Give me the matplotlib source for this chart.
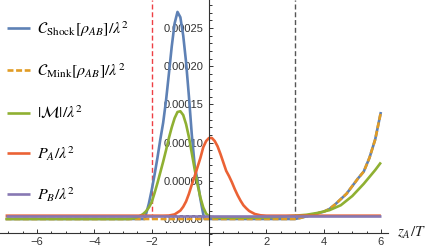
import numpy as np
import matplotlib
matplotlib.use("Agg")
import matplotlib.pyplot as plt
from matplotlib.ticker import FixedLocator, FuncFormatter

plt.rcParams['mathtext.fontset'] = 'stix'
plt.rcParams['font.family'] = ['Liberation Sans', 'DejaVu Sans']
plt.rcParams['lines.scale_dashes'] = False

SCALE = 1e-5  # values below are in units of 1e-5

# C_Shock[rho_AB]/lambda^2
x_shock = [-7.1, -2.25, -2.2, -2.1, -2.0, -1.9, -1.8, -1.7, -1.6, -1.5, -1.4, -1.3,
           -1.2, -1.1, -1.0, -0.9, -0.8, -0.7, -0.6, -0.5, -0.4, -0.3, -0.2, -0.15,
           3.0, 3.2, 3.4, 3.6, 3.8, 4.0, 4.2, 4.4, 4.6, 4.8, 5.0, 5.2, 5.4, 5.6, 5.8, 6.0]
c_shock = [0, 0, 0.6, 2.0, 3.8, 5.8, 8.0, 10.4, 12.6, 15.5, 19.0, 22.6,
           25.6, 27.1, 26.4, 24.0, 20.5, 16.0, 11.0, 7.0, 5.0, 2.6, 0.6, 0,
           0, 0.15, 0.35, 0.55, 0.75, 0.95, 1.3, 1.9, 2.6, 3.3, 4.3, 5.3, 6.2, 8.0, 10.4, 14.0]

# C_Mink[rho_AB]/lambda^2
x_mink = [-7.1, 3.0, 3.2, 3.4, 3.6, 3.8, 4.0, 4.2, 4.4, 4.6, 4.8, 5.0, 5.2, 5.4, 5.6, 5.8, 6.0]
c_mink = [0, 0, 0.15, 0.35, 0.55, 0.75, 0.95, 1.3, 1.9, 2.6, 3.3, 4.3, 5.3, 6.2, 8.0, 10.4, 14.0]

# |M|/lambda^2
x_m = [-7.1, -2.8, -2.7, -2.6, -2.5, -2.4, -2.3, -2.2, -2.1, -2.0, -1.9, -1.8, -1.7,
       -1.6, -1.5, -1.4, -1.3, -1.2, -1.1, -1.0, -0.9, -0.8, -0.7, -0.6, -0.5, -0.4,
       -0.3, -0.2, -0.1, 0.0, 0.2, 0.5, 1.0, 2.0, 2.5, 3.0, 3.4, 3.8, 4.2, 4.6, 5.0,
       5.4, 5.8, 6.0]
m_abs = [0, 0, 0.05, 0.12, 0.25, 0.42, 0.65, 1.0, 1.5, 2.2, 3.4, 4.7, 6.1,
         7.5, 9.0, 10.6, 12.0, 13.2, 14.0, 14.1, 13.6, 12.4, 10.7, 8.6, 6.5, 4.5,
         2.8, 1.5, 0.7, 0.35, 0.2, 0.15, 0.15, 0.2, 0.3, 0.43, 0.55, 0.8, 1.15, 1.8, 3.0,
         4.6, 6.4, 7.4]

# P_A/lambda^2
x_pa = [-7.1, -1.6, -1.4, -1.2, -1.0, -0.9, -0.8, -0.7, -0.6, -0.5, -0.4, -0.3, -0.2,
        -0.1, 0.0, 0.1, 0.2, 0.3, 0.4, 0.5, 0.6, 0.7, 0.8, 0.9, 1.0, 1.1, 1.2, 1.3,
        1.4, 1.6, 1.8, 2.0, 6.0]
p_a = [0.43, 0.43, 0.45, 0.6, 1.1, 1.6, 2.3, 3.3, 4.5, 5.6, 6.8, 8.0, 9.4,
       10.2, 10.6, 10.6, 10.2, 9.5, 8.5, 7.4, 6.3, 5.6, 4.8, 3.9, 3.1, 2.4, 1.8, 1.4,
       1.05, 0.65, 0.48, 0.43, 0.43]

# P_B/lambda^2
x_pb = [-7.1, 6.0]
p_b = [0.43, 0.43]

labels = [r'$\mathcal{C}_{\mathrm{Shock}}[\rho_{AB}]/\lambda^2$',
          r'$\mathcal{C}_{\mathrm{Mink}}[\rho_{AB}]/\lambda^2$',
          r'$|\mathcal{M}|/\lambda^2$',
          r'$P_A/\lambda^2$',
          r'$P_B/\lambda^2$']
colors = ['#5E81B5', '#E19C24', '#8FB032', '#EB6235', '#8778B3']

vlines_x = [-2, 3]
vline_colors = ['#EE3F44', '#555555']

y_ticks = [0, 5, 10, 15, 20, 25]
x_ticks = [-6, -4, -2, 2, 4, 6]

fig = plt.figure(figsize=(4.34, 2.5), dpi=100)
ax = fig.add_axes([0, 0, 1, 1])
ax.set_xlim(-7.295, 7.853)
ax.set_ylim(-4.06 * SCALE, 28.66 * SCALE)

lw = 1.9
series = [(x_shock, c_shock, '-'), (x_mink, c_mink, (0, (4.3, 1.9))),
          (x_m, m_abs, '-'), (x_pa, p_a, '-'), (x_pb, p_b, '-')]
handles = []
for (xs, ys, ls), c, lab in zip(series, colors, labels):
    h, = ax.plot(xs, np.array(ys) * SCALE, color=c, lw=lw, ls=ls, label=lab,
                 solid_joinstyle='round', solid_capstyle='butt')
    handles.append(h)

for xv, c in zip(vlines_x, vline_colors):
    ax.vlines(xv, 0, 28.66 * SCALE, colors=c, lw=1.0, linestyles=(0, (3.6, 2.0)), zorder=0.5)

axis_y = -1.83 * SCALE
for s in ['top', 'right']:
    ax.spines[s].set_visible(False)
ax.spines['left'].set_position(('data', 0))
ax.spines['bottom'].set_position(('data', axis_y))
ax.spines['left'].set_bounds(-3.4 * SCALE, 28.66 * SCALE)
ax.spines['bottom'].set_bounds(-7.3, 6.25)
for s in ['left', 'bottom']:
    ax.spines[s].set_color('#333333')
    ax.spines[s].set_linewidth(0.8)

ax.xaxis.set_major_locator(FixedLocator(x_ticks))
ax.xaxis.set_minor_locator(FixedLocator([v / 2 for v in range(-14, 13) if v % 4 != 0]))
ax.yaxis.set_major_locator(FixedLocator([v * SCALE for v in y_ticks]))
ax.yaxis.set_minor_locator(FixedLocator([v * SCALE for v in range(-3, 29) if v % 5 != 0]))
ax.yaxis.set_major_formatter(FuncFormatter(lambda v, p: f"{v:.5f}"))
ax.xaxis.set_major_formatter(FuncFormatter(lambda v, p: f"{int(round(v))}".replace('-', '\u2212')))

ax.tick_params(which='both', direction='in', color='#333333', width=0.7,
               labelsize=8, labelcolor='#333333')
ax.tick_params(which='major', length=3.0)
ax.tick_params(which='minor', length=1.8)
ax.tick_params(axis='y', which='major', pad=4)
ax.tick_params(axis='x', which='major', pad=3)

ax.text(6.56, axis_y, r'$z_A/T$', ha='left', va='center', fontsize=11, color='#222222')

leg = ax.legend(handles, labels, loc='upper left', bbox_to_anchor=(7 / 434, 1 - 19 / 250),
                frameon=False, fontsize=11.5, handlelength=1.45, handletextpad=0.45,
                labelspacing=1.42, borderpad=0, borderaxespad=0)

fig.savefig('out.png', dpi=100)
